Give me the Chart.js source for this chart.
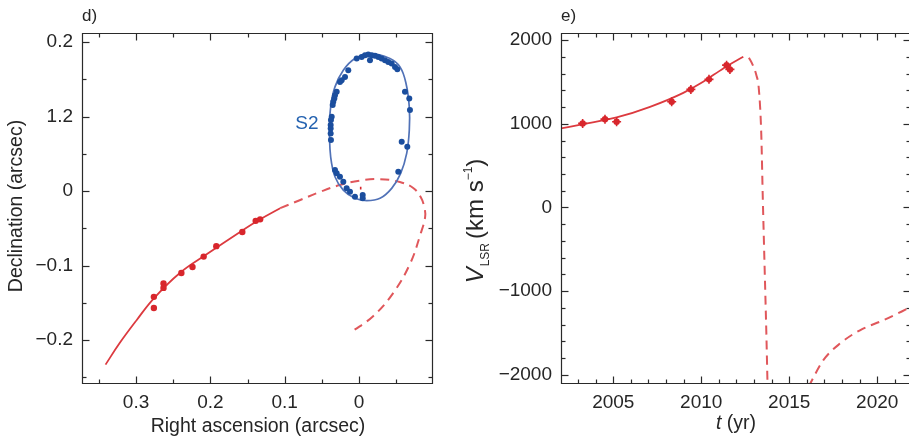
<!DOCTYPE html>
<html>
<head>
<meta charset="utf-8">
<script src="https://cdn.jsdelivr.net/npm/chart.js@4/dist/chart.umd.min.js"></script>
<style>
html,body{margin:0;padding:0;background:#fff;overflow:hidden;width:909px;height:441px}
#wrap{position:relative;width:909px;height:441px;overflow:hidden;background:#fff}
#c1{position:absolute;left:0;top:0}
#c2{position:absolute;left:450px;top:0}
</style>
</head>
<body>
<div id="wrap">
<canvas id="c1" width="450" height="441" style="width:450px;height:441px"></canvas>
<canvas id="c2" width="470" height="441" style="width:470px;height:441px"></canvas>
</div>
<script>
// ---------- Panel d: sky positions ----------
const raTicks = [0.3, 0.2, 0.1, 0];
const raTickLabels = ['0.3', '0.2', '0.1', '0'];
const raMinorTicks = [0.35, 0.25, 0.15, 0.05, -0.05];
const decTicks = [-0.2, -0.1, 0, 0.1, 0.2];
const decTickLabels = ['\u22120.2', '\u22120.1', '0', '1.2', '0.2'];
const decMinorTicks = [-0.25, -0.15, -0.05, 0.05, 0.15];

const g2ObsRA  = [0.276, 0.276, 0.263, 0.263, 0.239, 0.224, 0.209, 0.192, 0.157, 0.139, 0.133];
const g2ObsDec = [-0.142, -0.157, -0.124, -0.130, -0.110, -0.102, -0.088, -0.074, -0.055, -0.040, -0.038];

const g2FitRA  = [0.341, 0.322, 0.299, 0.276, 0.241, 0.205, 0.160, 0.133, 0.106];
const g2FitDec = [-0.233, -0.204, -0.173, -0.144, -0.110, -0.085, -0.055, -0.038, -0.023];

const g2PredRA  = [0.106, 0.079, 0.052, 0.026, -0.001, -0.028, -0.055, -0.073, -0.083, -0.088, -0.089, -0.083, -0.069, -0.046, -0.019, 0.010];
const g2PredDec = [-0.023, -0.012, -0.001, 0.008, 0.014, 0.016, 0.012, 0.004, -0.008, -0.022, -0.035, -0.057, -0.097, -0.137, -0.168, -0.189];

const s2OrbitRA  = [0.0400, 0.0381, 0.0323, 0.0211, 0.0054, -0.0148, -0.0417, -0.0552, -0.0633, -0.0677, -0.0677, -0.0642, -0.0561, -0.0440, -0.0283, -0.0104, 0.0054, 0.0211, 0.0323, 0.0381, 0.0400];
const s2OrbitDec = [0.0818, 0.1130, 0.1398, 0.1622, 0.1779, 0.1846, 0.1779, 0.1666, 0.1444, 0.1126, 0.0818, 0.0505, 0.0237, 0.0036, -0.0098, -0.0130, -0.0098, 0.0013, 0.0192, 0.0460, 0.0818];

const s2ObsRA  = [0.0031, -0.0036, -0.0081, -0.0125, -0.0171, -0.0215, -0.0260, -0.0305, -0.0350, -0.0394, -0.0440, -0.0485, -0.0516, -0.0148, 0.0144, 0.0188, 0.0233, 0.0256, 0.0300, 0.0323, 0.0332, 0.0346, 0.0354, 0.0367, 0.0377, 0.0381, 0.0381, 0.0381, 0.0377, -0.0619, -0.0677, -0.0686, -0.0575, -0.0650, -0.0529, 0.0323, 0.0300, 0.0256, 0.0211, 0.0166, 0.0121, 0.0054, -0.0050, -0.0050];
const s2ObsDec = [0.1779, 0.1800, 0.1823, 0.1832, 0.1823, 0.1814, 0.1800, 0.1779, 0.1756, 0.1733, 0.1712, 0.1666, 0.1635, 0.1756, 0.1622, 0.1532, 0.1488, 0.1465, 0.1331, 0.1287, 0.1243, 0.1197, 0.1153, 0.0996, 0.0952, 0.0885, 0.0840, 0.0773, 0.0684, 0.1331, 0.1243, 0.1086, 0.0661, 0.0594, 0.0259, 0.0282, 0.0237, 0.0192, 0.0125, 0.0036, -0.0009, -0.0076, -0.0054, -0.0098];

const sgrMarkRA  = [-0.0023, -0.0023];
const sgrMarkDec = [0.0058, 0.0022];

const s2LabelText = 'S2';
const s2LabelRA = 0.070, s2LabelDec = 0.090;

// ---------- Panel e: radial velocity ----------
const yearTicks = [2005, 2010, 2015, 2020];
const yearTickLabels = ['2005', '2010', '2015', '2020'];
const yearMinorTicks = [2003, 2004, 2006, 2007, 2008, 2009, 2011, 2012, 2013, 2014, 2016, 2017, 2018, 2019, 2021];
const vTicks = [-2000, -1000, 0, 1000, 2000];
const vTickLabels = ['\u22122000', '\u22121000', '0', '1000', '2000'];
const vMinorTicks = [-1800, -1600, -1400, -1200, -800, -600, -400, -200, 200, 400, 600, 800, 1200, 1400, 1600, 1800];

const vObsYear = [2003.26, 2004.53, 2005.19, 2008.32, 2009.41, 2010.44, 2011.44, 2011.63];
const vObs     = [1004, 1055, 1023, 1262, 1410, 1530, 1700, 1649];

const vFitYear = [2002.0, 2003.3, 2005.19, 2007.09, 2008.98, 2010.11, 2011.25, 2012.39];
const vFit     = [944, 995, 1075, 1202, 1369, 1501, 1661, 1800];

const vPred1Year = [2012.71, 2012.93, 2013.13, 2013.27, 2013.41, 2013.50, 2013.60, 2013.70, 2013.77];
const vPred1     = [1789, 1701, 1582, 1423, 886, 90, -707, -1502, -2150];

const vPred2Year = [2016.10, 2016.93, 2017.88, 2019.02, 2020.34, 2021.92];
const vPred2     = [-2140, -1825, -1625, -1466, -1347, -1188];

// ---------- helpers ----------
const pts = (xs, ys) => xs.map((x, i) => ({x: x, y: ys[i]}));
const FONT = '"Liberation Sans", Arial, Helvetica, sans-serif';
const TXT = '#262626';
const RED = '#d8262c', RED_LINE = '#dc3a3f', RED_DASH = '#e0575b';
const BLUE = '#1b4e9e', BLUE_LINE = '#5172b7';

function framePlugin(cfg) {
  return {
    id: 'frame_' + cfg.name,
    afterDraw(chart) {
      const ctx = chart.ctx, a = chart.chartArea;
      const xs = chart.scales.x, ys = chart.scales.y;
      ctx.save();
      ctx.strokeStyle = '#2a2a2a';
      ctx.lineWidth = 1.2;
      const L = Math.round(a.left) + 0.5, R = Math.round(a.right) - 0.5;
      const T = Math.round(a.top) + 0.5, B = Math.round(a.bottom) - 0.5;
      ctx.beginPath();
      ctx.moveTo(L, T); ctx.lineTo(R, T); ctx.lineTo(R, B); ctx.lineTo(L, B); ctx.closePath();
      ctx.stroke();
      const seg = (x1, y1, x2, y2) => { ctx.beginPath(); ctx.moveTo(x1, y1); ctx.lineTo(x2, y2); ctx.stroke(); };
      const xt = (vals, len) => vals.forEach(v => {
        const p = Math.round(xs.getPixelForValue(v)) + 0.5;
        seg(p, B, p, B - len); seg(p, T, p, T + len);
      });
      const yt = (vals, len) => vals.forEach(v => {
        const p = Math.round(ys.getPixelForValue(v)) + 0.5;
        seg(L, p, L + len, p); seg(R, p, R - len, p);
      });
      xt(cfg.xMajor, 7); xt(cfg.xMinor, 4);
      yt(cfg.yMajor, 7); yt(cfg.yMinor, 4);
      ctx.fillStyle = TXT;
      cfg.text(ctx, a, xs, ys);
      ctx.restore();
    }
  };
}

function axisX(min, max, reverse, ticks, labels, h) {
  return {
    type: 'linear', min: min, max: max, reverse: reverse,
    afterBuildTicks: s => { s.ticks = ticks.map(v => ({value: v})); },
    afterFit: s => { s.height = h; },
    grid: {display: false, drawTicks: false}, border: {display: false},
    ticks: {
      autoSkip: false, maxRotation: 0, padding: 7, color: TXT,
      font: {family: FONT, size: 19},
      callback: (v, i) => labels[i]
    }
  };
}
function axisY(min, max, ticks, labels, w) {
  return {
    type: 'linear', min: min, max: max,
    afterBuildTicks: s => { s.ticks = ticks.map(v => ({value: v})); },
    afterFit: s => { s.width = w; },
    grid: {display: false, drawTicks: false}, border: {display: false},
    ticks: {
      autoSkip: false, padding: 9, color: TXT,
      font: {family: FONT, size: 19},
      callback: (v, i) => labels[i]
    }
  };
}

// ---------- Chart d ----------
new Chart(document.getElementById('c1'), {
  type: 'scatter',
  data: {
    datasets: [
      {data: pts(g2ObsRA, g2ObsDec), pointRadius: 3.2, backgroundColor: RED, borderWidth: 0, order: 0},
      {data: pts(s2ObsRA, s2ObsDec), pointRadius: 3, backgroundColor: BLUE, borderWidth: 0, order: 1},
      {data: pts(sgrMarkRA, sgrMarkDec), showLine: true, pointRadius: 0, borderColor: RED, borderWidth: 1.6, order: 2},
      {data: pts(s2OrbitRA, s2OrbitDec), showLine: true, pointRadius: 0, borderColor: BLUE_LINE, borderWidth: 1.7, tension: 0.4, order: 3},
      {data: pts(g2FitRA, g2FitDec), showLine: true, pointRadius: 0, borderColor: RED_LINE, borderWidth: 1.8, tension: 0.4, order: 4},
      {data: pts(g2PredRA, g2PredDec), showLine: true, pointRadius: 0, borderColor: RED_DASH, borderWidth: 2, borderDash: [9, 6], tension: 0.4, order: 5}
    ]
  },
  options: {
    responsive: false, animation: false, devicePixelRatio: 1,
    layout: {padding: {left: 0, top: 33, right: 17, bottom: 0}},
    plugins: {legend: {display: false}, tooltip: {enabled: false}},
    scales: {
      x: axisX(-0.0996, 0.3727, true, raTicks, raTickLabels, 57),
      y: axisY(-0.259, 0.2121, decTicks, decTickLabels, 82)
    }
  },
  plugins: [framePlugin({
    name: 'd', xMajor: raTicks, xMinor: raMinorTicks, yMajor: decTicks, yMinor: decMinorTicks,
    text: (ctx, a, xs, ys) => {
      ctx.textBaseline = 'middle';
      ctx.font = '17px ' + FONT; ctx.textAlign = 'left';
      ctx.fillText('d)', 82, 16);
      ctx.font = '19.5px ' + FONT; ctx.textAlign = 'center';
      ctx.fillText('Right ascension (arcsec)', 258, 427);
      ctx.save(); ctx.translate(17, 206); ctx.rotate(-Math.PI / 2);
      ctx.fillText('Declination (arcsec)', 0, 0); ctx.restore();
      ctx.fillStyle = '#2462b0'; ctx.font = '19px ' + FONT;
      ctx.fillText(s2LabelText, xs.getPixelForValue(s2LabelRA), ys.getPixelForValue(s2LabelDec));
    }
  })]
});

// ---------- Chart e ----------
new Chart(document.getElementById('c2'), {
  type: 'scatter',
  data: {
    datasets: [
      {data: pts(vObsYear, vObs), pointRadius: 3.2, backgroundColor: RED, borderWidth: 0, order: 0},
      {data: pts(vObsYear, vObs), pointStyle: 'cross', pointRadius: 4.5, borderColor: RED, borderWidth: 1.6, order: 1},
      {data: pts(vFitYear, vFit), showLine: true, pointRadius: 0, borderColor: RED_LINE, borderWidth: 1.8, cubicInterpolationMode: 'monotone', order: 2},
      {data: pts(vPred1Year, vPred1), showLine: true, pointRadius: 0, borderColor: RED_DASH, borderWidth: 2, borderDash: [9, 6], cubicInterpolationMode: 'monotone', order: 3},
      {data: pts(vPred2Year, vPred2), showLine: true, pointRadius: 0, borderColor: RED_DASH, borderWidth: 2, borderDash: [9, 6], cubicInterpolationMode: 'monotone', order: 4}
    ]
  },
  options: {
    responsive: false, animation: false, devicePixelRatio: 1,
    layout: {padding: {left: 0, top: 33, right: 9, bottom: 0}},
    plugins: {legend: {display: false}, tooltip: {enabled: false}},
    scales: {
      x: axisX(2002.03, 2021.92, false, yearTicks, yearTickLabels, 57),
      y: axisY(-2107.5, 2083.6, vTicks, vTickLabels, 111)
    }
  },
  plugins: [framePlugin({
    name: 'e', xMajor: yearTicks, xMinor: yearMinorTicks, yMajor: vTicks, yMinor: vMinorTicks,
    text: (ctx, a, xs, ys) => {
      ctx.textBaseline = 'middle';
      ctx.font = '17px ' + FONT; ctx.textAlign = 'left';
      ctx.fillText('e)', 111, 16);
      // x title: t (yr)
      const fI = 'italic 19.5px ' + FONT, fN = '19.5px ' + FONT;
      ctx.font = fI; const w1 = ctx.measureText('t').width;
      ctx.font = fN; const w2 = ctx.measureText(' (yr)').width;
      let x0 = 286 - (w1 + w2) / 2;
      ctx.font = fI; ctx.fillText('t', x0, 424);
      ctx.font = fN; ctx.fillText(' (yr)', x0 + w1, 424);
      // y title: V_LSR (km s^-1)
      const parts = [
        ['V', 'italic 24px ' + FONT, 0, 1],
        ['LSR', '12px ' + FONT, 6, 4],
        ['(km s', '24px ' + FONT, 0, 0],
        ['\u22121', '12px ' + FONT, -11, 0],
        [')', '24px ' + FONT, 0, 0]
      ];
      let tot = 0;
      parts.forEach(p => { ctx.font = p[1]; p.push(ctx.measureText(p[0]).width + p[3]); tot += p[4]; });
      ctx.save(); ctx.translate(33, 221); ctx.rotate(-Math.PI / 2);
      ctx.textBaseline = 'alphabetic';
      let x = -tot / 2;
      parts.forEach(p => { ctx.font = p[1]; ctx.fillText(p[0], x, p[2]); x += p[4]; });
      ctx.restore();
    }
  })]
});
</script>
</body>
</html>
